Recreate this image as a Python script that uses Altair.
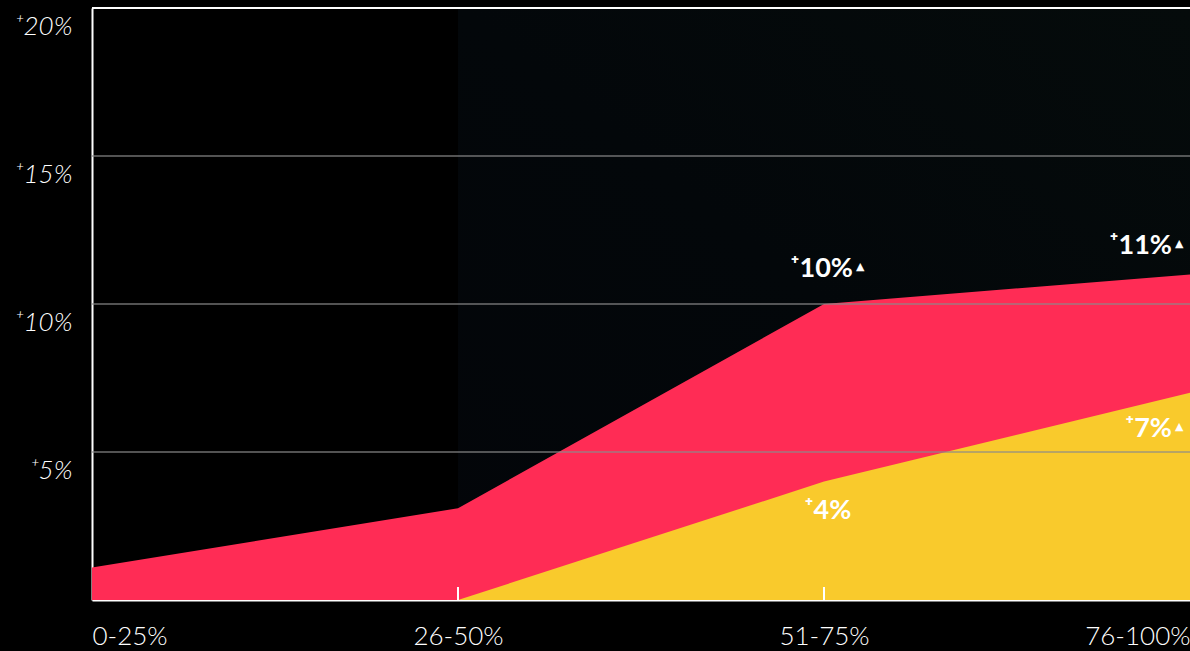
import json
import altair as alt
import pandas as pd

# Percentile bands along the x axis
categories = ["0-25%", "26-50%", "51-75%", "76-100%"]
# Growth in percent for each series (None = series not present in that band)
red_values = [1.1, 3.1, 10, 11]
yellow_values = [None, 0, 4, 7]
# Horizontal reference levels
grid_levels = [5, 10, 15]
top_level = 20

# Value call-outs: (series, band, value, text, rising)
callouts = [
    ("red", "51-75%", 10, "⁺10%", True),
    ("red", "76-100%", 11, "⁺11%", True),
    ("yellow", "51-75%", 4, "⁺4%", False),
    ("yellow", "76-100%", 7, "⁺7%", True),
]

RED = "#FF2C55"
YELLOW = "#F9CA2C"
FONT = "Lato"

pos = {c: i for i, c in enumerate(categories)}

red_df = pd.DataFrame({"pos": [pos[c] for c in categories], "value": red_values})
yellow_df = pd.DataFrame(
    {"pos": [pos[c] for c, v in zip(categories, yellow_values) if v is not None],
     "value": [v for v in yellow_values if v is not None]}
)
grid_df = pd.DataFrame({"value": grid_levels})
top_df = pd.DataFrame({"value": [top_level]})
tick_df = pd.DataFrame({"pos": [pos[c] for c in categories[1:-1]]})
shade_df = pd.DataFrame({"pos": [pos[categories[1]]], "pos2": [pos[categories[-1]]],
                         "value": [0], "value2": [top_level]})

label_array = json.dumps(categories)

x_enc = alt.X(
    "pos:Q",
    scale=alt.Scale(domain=[0, len(categories) - 1], nice=False, zero=False),
    axis=alt.Axis(values=list(range(len(categories))),
                  labelExpr=f"{label_array}[datum.value]", title=None),
)
y_enc = alt.Y(
    "value:Q",
    scale=alt.Scale(domain=[0, top_level], nice=False),
    axis=alt.Axis(values=grid_levels + [top_level],
                  labelExpr="'⁺' + datum.value + '%'", title=None),
)

# Faint shaded panel behind the upper bands
shade = alt.Chart(shade_df).mark_rect(
    color=alt.Gradient(
        gradient="linear",
        stops=[alt.GradientStop(color="#030509", offset=0),
               alt.GradientStop(color="#03070a", offset=0.5),
               alt.GradientStop(color="#050b0b", offset=1)],
        x1=0, y1=1, x2=1, y2=0,
    )
).encode(x=x_enc, x2="pos2:Q", y=y_enc, y2="value2:Q")

red_area = alt.Chart(red_df).mark_area(color=RED, opacity=1).encode(x=x_enc, y=y_enc)
yellow_area = alt.Chart(yellow_df).mark_area(color=YELLOW, opacity=1).encode(x=x_enc, y=y_enc)

grid = alt.Chart(grid_df).mark_rule(color="#8a8a8a", strokeWidth=2, opacity=0.6).encode(y=y_enc)
top_rule = alt.Chart(top_df).mark_rule(color="white", strokeWidth=2).encode(y=y_enc)

ticks = alt.Chart(tick_df).mark_rule(color="white", strokeWidth=2).encode(
    x=x_enc, y=alt.value(592), y2=alt.value(579)
)

callout_df = pd.DataFrame(callouts, columns=["series", "band", "value", "text", "rising"])
callout_df["pos"] = callout_df["band"].map(pos)


def callout(i, align, dx, dy):
    row = callout_df.iloc[[i]]
    layers = [
        alt.Chart(row).mark_text(
            font=FONT, fontSize=27, fontWeight="bold", color="white",
            align=align, baseline="middle", dx=dx, dy=dy,
        ).encode(x=x_enc, y=y_enc, text="text:N")
    ]
    if bool(row["rising"].iloc[0]):
        layers.append(
            alt.Chart(row).mark_text(
                text="▲", font="DejaVu Sans", fontSize=11, color="white",
                align="left", baseline="middle",
                dx=dx + 3 if align == "right" else dx + 40, dy=dy - 2,
            ).encode(x=x_enc, y=y_enc)
        )
    return layers


labels = (
    callout(0, "right", 29, -35)
    + callout(1, "right", -18, -28)
    + callout(2, "center", 4, 29)
    + callout(3, "right", -18, 36)
)

chart = alt.layer(
    shade, red_area, yellow_area, grid, top_rule, ticks, *labels
).properties(
    width=1098,
    height=592,
    padding={"left": 92, "top": 8, "right": 0, "bottom": 51},
    autosize=alt.AutoSizeParams(type="none"),
    background="#000000",
).configure_view(
    stroke=None
).configure_axis(
    grid=False,
    ticks=False,
    domainColor="white",
    domainWidth=2,
    labelColor="white",
    labelFont=FONT,
    labelFontSize=26,
    labelFontWeight=300,
    zindex=1,
).configure_axisX(
    labelFlush=True,
    labelOverlap=False,
    labelPadding=23,
).configure_axisY(
    labelFontStyle="italic",
    labelAlign="right",
    labelBaseline="top",
    labelOffset=5,
    labelPadding=20,
)

chart.save("out.html", embed_options={"renderer": "svg", "actions": False})
